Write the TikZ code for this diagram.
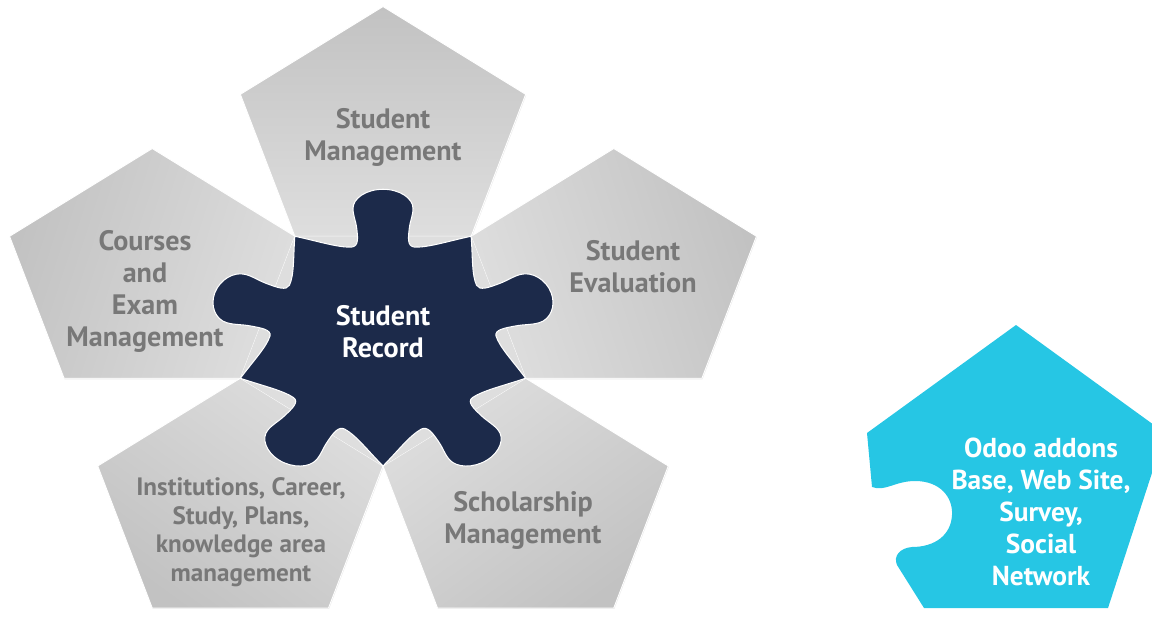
\documentclass[tikz,border=0pt]{standalone}
\usepackage{fontspec}
\setmainfont{PT Sans}
\usepackage{xcolor}
\usetikzlibrary{shadows}

\definecolor{recordnavy}{RGB}{28,42,74}
\definecolor{odoocyan}{RGB}{38,198,228}
\definecolor{petaltext}{RGB}{120,120,120}
\definecolor{petalout}{RGB}{194,194,194}
\definecolor{petalin}{RGB}{222,222,222}

\begin{document}
\begin{tikzpicture}[
x=0.02cm, y=-0.02cm,
petal/.style={top color=petalout, bottom color=petalin, draw=white, line width=0.5pt,
  drop shadow={shadow xshift=0.3pt, shadow yshift=-0.6pt, opacity=0.18}},
record/.style={fill=recordnavy, draw=white, line width=0.6pt},
petallabel/.style={text=petaltext, font=\bfseries\fontsize{16}{18.2}\selectfont, align=center},
smalllabel/.style={petallabel, font=\bfseries\fontsize{14.3}{16.2}\selectfont},
addonlabel/.style={text=white, font=\bfseries\fontsize{15.6}{18.2}\selectfont, align=center}
]
\useasboundingbox (0,0) rectangle (1152,618);

\begin{scope}[shift={(383,339)}, x=1cm, y=1cm, xscale=3, yscale=2.54]
\foreach \a in {18,90,162,234,306}
  \path[petal, shading angle=\a-90] (\a:1.618) +(\a:1) -- +(\a+72:1) -- +(\a+144:1) -- +(\a+216:1) -- +(\a+288:1) -- cycle;
\fill[petalin] (-18:1) -- (54:1) -- (126:1) -- (198:1) -- (270:1) -- cycle;

\foreach \a in {18,90,162,234,306}{
  \begin{scope}[rotate=\a-90]
    \foreach \x/\y [count=\i] in {0.43/0.769, 0.3/0.719, 0.21/0.724,
      0.16/0.729, 0.168/0.799, 0.175/0.869,
      0.182/0.939, 0.2/0.969, 0.2/1.029,
      0.2/1.109, 0.11/1.179, 0/1.179,
      -0.11/1.179, -0.2/1.109, -0.2/1.029,
      -0.2/0.969, -0.182/0.939, -0.175/0.869,
      -0.168/0.799, -0.16/0.729, -0.21/0.724,
      -0.3/0.719, -0.43/0.769, -0.588/0.809}
      \coordinate (k\a-\i) at (\x,\y);
  \end{scope}
}
\draw[record] (-18:1) \foreach \a in {18,90,162,234,306}{
  .. controls (k\a-1) and (k\a-2) .. (k\a-3)
  .. controls (k\a-4) and (k\a-5) .. (k\a-6)
  .. controls (k\a-7) and (k\a-8) .. (k\a-9)
  .. controls (k\a-10) and (k\a-11) .. (k\a-12)
  .. controls (k\a-13) and (k\a-14) .. (k\a-15)
  .. controls (k\a-16) and (k\a-17) .. (k\a-18)
  .. controls (k\a-19) and (k\a-20) .. (k\a-21)
  .. controls (k\a-22) and (k\a-23) .. (k\a-24)} -- cycle;
\end{scope}

\begin{scope}
\clip (0,0) rectangle (1152,618);
\fill[odoocyan] (867,433) -- (872,487) .. controls (885,492) and (895,481) .. (915,481)
  .. controls (940,481) and (953,497) .. (952,515) .. controls (951,535) and (935,547) .. (912,547)
  .. controls (900,548) and (893,556) .. (897,565) -- (924,608) -- (1108,608) -- (1165,433) -- (1016,325) -- cycle;
\end{scope}

\node[petallabel] (stmgmt) at (383,137) {Student\\Management};
\node[petallabel] (steval) at (633,267) {Student\\Evaluation};
\node[petallabel] (courses) at (145,291) {Courses\\and\\Exam\\Management};
\node[petallabel, text=white] (record) at (383,332) {Student\\Record};
\node[smalllabel] (inst) at (241,532) {Institutions, Career,\\Study, Plans,\\knowledge area\\management};
\node[petallabel] (schol) at (523,520) {Scholarship\\Management};
\node[addonlabel] (addons) at (1041,512) {Odoo addons\\Base, Web Site,\\Survey,\\Social\\Network};
\end{tikzpicture}
\end{document}
